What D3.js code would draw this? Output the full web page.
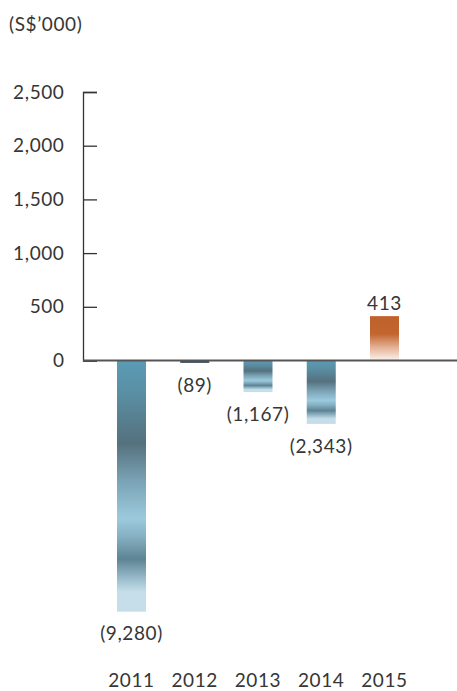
<!DOCTYPE html>
<html>
<head>
<meta charset="utf-8">
<script src="https://cdn.jsdelivr.net/npm/d3@7"></script>
<style>
  html, body { margin: 0; padding: 0; background: #fff; }
  svg text { font-family: Lato, "Open Sans", sans-serif; fill: #363636; letter-spacing: 0.6px; }
</style>
</head>
<body>
<svg id="chart" width="457" height="691"></svg>
<script>
// Net profit / (loss), S$'000
const years = ["2011", "2012", "2013", "2014", "2015"];
const values = [-9280, -89, -1167, -2343, 413];
const valueLabels = ["(9,280)", "(89)", "(1,167)", "(2,343)", "413"];
const yTicks = [0, 500, 1000, 1500, 2000, 2500];
const unitLabel = "(S$\u2019000)";
const fontSize = 19;

const svg = d3.select("#chart");
const defs = svg.append("defs");

// Striped blue gradient for loss years
const lossGrad = defs.append("linearGradient")
  .attr("id", "lossGrad").attr("x1", 0).attr("y1", 0).attr("x2", 0).attr("y2", 1);
[
  [0.00, "#5a9cb4"], [0.12, "#5a90a5"], [0.33, "#55717e"], [0.48, "#7aa3b5"],
  [0.63, "#9ccadd"], [0.70, "#86b0c3"], [0.79, "#5d8494"], [0.88, "#a3c4d3"],
  [0.92, "#c5dde8"], [1.00, "#c6dee9"]
].forEach(([o, c]) => lossGrad.append("stop").attr("offset", o).attr("stop-color", c));

// Orange fade for the profit year
const gainGrad = defs.append("linearGradient")
  .attr("id", "gainGrad").attr("x1", 0).attr("y1", 0).attr("x2", 0).attr("y2", 1);
[
  [0.00, "#c0612a"], [0.40, "#c2652f"], [0.70, "#e4b093"], [1.00, "#fcf3ee"]
].forEach(([o, c]) => gainGrad.append("stop").attr("offset", o).attr("stop-color", c));

// Scales: positive values follow the axis, losses use a compressed scale below zero
const zeroY = 360.5;
const yPos = d3.scaleLinear().domain([0, 2500]).range([zeroY, 92]);
const yNeg = d3.scaleLinear().domain([-9280, 0]).range([611.7, zeroY]);
const y = v => (v >= 0 ? yPos(v) : yNeg(v));

const x = d3.scaleBand().domain(years).range([117, 399])
  .paddingInner(0.5415).paddingOuter(0);

// Y axis
const axisX = 83;
const axis = d3.axisRight(yPos).tickValues(yTicks).tickSize(14).tickFormat("");
const gAxis = svg.append("g").attr("transform", `translate(${axisX},0)`).call(axis);
gAxis.select(".domain").attr("stroke", "#333").attr("stroke-width", 1.3);
gAxis.selectAll(".tick line").attr("stroke", "#333").attr("stroke-width", 1.3);

// Tick labels on the left of the axis
svg.append("g").selectAll("text").data(yTicks).join("text")
  .attr("x", 64.5).attr("y", d => yPos(d)).attr("dy", "0.35em")
  .attr("text-anchor", "end").attr("font-size", fontSize)
  .text(d => d3.format(",")(d));

svg.append("text").attr("x", 9).attr("y", 31).attr("font-size", fontSize).text(unitLabel);

// Bars
const rows = years.map((yr, i) => ({ year: yr, value: values[i], label: valueLabels[i] }));
svg.append("g").selectAll("rect").data(rows).join("rect")
  .attr("x", d => x(d.year))
  .attr("width", x.bandwidth())
  .attr("y", d => Math.min(y(d.value), zeroY))
  .attr("height", d => Math.abs(y(d.value) - zeroY))
  .attr("fill", d => d.value >= 0 ? "url(#gainGrad)"
    : (Math.abs(y(d.value) - zeroY) < 5 ? "#3e525d" : "url(#lossGrad)"));

// Zero baseline
svg.append("line").attr("x1", axisX).attr("x2", 457).attr("y1", zeroY).attr("y2", zeroY)
  .attr("stroke", "#555").attr("stroke-width", 2);

// Value labels
svg.append("g").selectAll("text").data(rows).join("text")
  .attr("x", d => x(d.year) + x.bandwidth() / 2)
  .attr("y", d => d.value >= 0 ? y(d.value) - 13 : y(d.value) + 22)
  .attr("dy", "0.35em").attr("text-anchor", "middle").attr("font-size", fontSize)
  .text(d => d.label);

// Year labels
svg.append("g").selectAll("text").data(rows).join("text")
  .attr("x", d => x(d.year) + x.bandwidth() / 2)
  .attr("y", 680).attr("dy", "0.35em").attr("text-anchor", "middle").attr("font-size", fontSize)
  .text(d => d.year);
</script>
</body>
</html>
